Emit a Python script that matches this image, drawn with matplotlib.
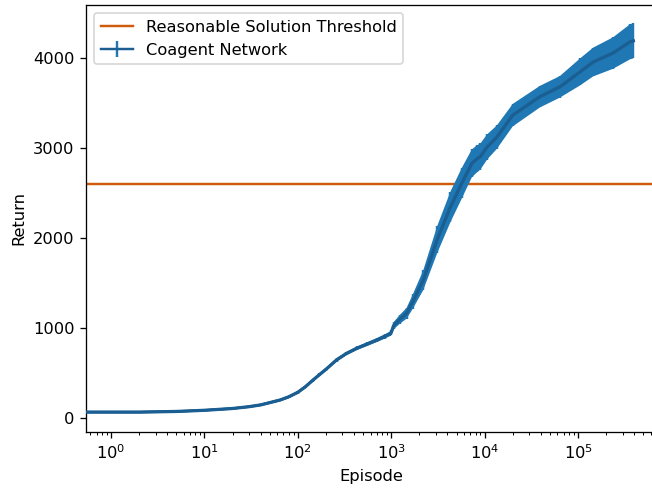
import matplotlib
matplotlib.use("Agg")
import matplotlib.pyplot as plt
import numpy as np

# values
episodes = [0, 1, 2, 5, 10, 20, 30, 40, 50, 65, 80, 100, 120, 145, 170, 200,
            260, 330, 430, 550, 700, 850, 970, 1000, 1060, 1240, 1460, 1700,
            2200, 3100, 4300, 5700, 7300, 8300, 9000, 10600, 13500, 20000,
            39000, 64000, 105000, 145000, 237000, 360000, 390000]
mean_return = [65, 65, 65, 72, 85, 105, 125, 145, 170, 200, 235, 285, 345,
               420, 480, 540, 645, 715, 775, 820, 865, 905, 935, 950, 1025,
               1097, 1163, 1292, 1530, 1980, 2345, 2610, 2830, 2880, 2905,
               3010, 3120, 3365, 3570, 3680, 3845, 3955, 4055, 4180, 4190]
std_return = [12, 12, 12, 12, 12, 12, 12, 13, 13, 14, 14, 15, 15, 16, 16, 17,
              18, 19, 20, 21, 22, 24, 25, 28, 40, 50, 60, 80, 110, 150, 170,
              170, 155, 150, 145, 140, 130, 125, 120, 120, 150, 160, 175, 195,
              195]
threshold = 2600
xticks = [1e0, 1e1, 1e2, 1e3, 1e4, 1e5]

fig = plt.figure(figsize=(652 / 117, 489 / 117), dpi=117)
ax = fig.add_axes([0.1319, 0.1166, 0.8758, 0.8732])

ep = np.array(episodes, dtype=float)
mu = np.array(mean_return, dtype=float)
sd = np.array(std_return, dtype=float)

ax.axhline(threshold, color='#cf5c0c', lw=1.5, label='Reasonable Solution Threshold')
# errorbar gives the legend entry, band and mean line drawn over it
eb = ax.errorbar(ep, mu, yerr=sd, color='#1b5e92', ecolor='#1f77b4', lw=1.5,
                 zorder=1, label='Coagent Network')
for bars in eb[2]:
    bars.set_capstyle('butt')
ax.fill_between(ep, mu - sd, mu + sd, color='#1f77b4', lw=0, zorder=2)
ax.plot(ep, mu, color='#1b5e92', lw=2, zorder=3)

ax.set_xscale('log')
ax.set_xticks(xticks)
ax.set_xlim(0.54, 7e5)
ax.set_ylim(-156, 4589)
ax.set_xlabel('Episode')
ax.set_ylabel('Return')
ax.legend(loc='upper left')

fig.savefig('out.png', dpi=117)
